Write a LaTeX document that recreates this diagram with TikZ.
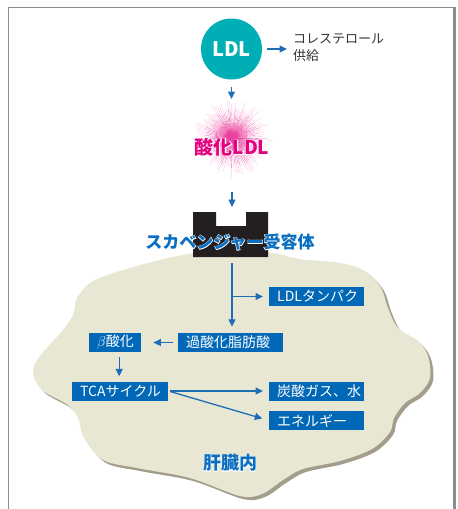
\documentclass[tikz,border=0pt]{standalone}
\usepackage{fontspec}
\setmainfont{Noto Sans CJK JP}
% stroked copy of the same face, used as a white outline under captions
\newfontfamily\jphalo{Noto Sans CJK JP}[BoldFeatures={FakeBold=6}, UprightFeatures={FakeBold=6}]
\usetikzlibrary{arrows.meta}
\definecolor{boxblue}{HTML}{0068B7}
\definecolor{arrowblue}{HTML}{1E6EB5}
\definecolor{ldlteal}{HTML}{00AFB5}
\definecolor{hotpink}{HTML}{E4007F}
\definecolor{liverfill}{HTML}{E7E7D4}
\definecolor{livershadow}{HTML}{A49D8C}
\definecolor{framegray}{HTML}{8C8C8C}
\definecolor{textgray}{HTML}{333333}
\definecolor{titleblue}{HTML}{0A6FC0}
\definecolor{recblack}{HTML}{231F20}

% outlined caption: emboldened white copy under a coloured top layer
\newcommand\haloText[5]{%
  \node[text=white,font=\jphalo\bfseries#3] (#1h) at (#2) {#5};
  \node[text=#4,font=\bfseries#3] (#1) at (#2) {#5};
}

\begin{document}
\begin{tikzpicture}[x=1pt,y=-1pt,
  flow/.style={draw=arrowblue, line width=1.3pt, -{Triangle[length=7.5pt,width=7pt]}},
  infobox/.style={fill=boxblue, text=white, inner xsep=8pt, inner ysep=0pt,
    minimum height=19pt, align=left, anchor=west,
    font=\fontsize{14}{16}\selectfont},
]
\useasboundingbox (0,0) rectangle (458,509);

% frame
\draw[framegray, line width=0.8pt] (8,509) -- (8,7) -- (453,7);
\draw[framegray, line width=3pt] (454.5,7) -- (454.5,509);

% liver outline with drop shadow
\foreach \d/\col in {3/livershadow,0/liverfill}
  \fill[\col, shift={(\d,\d)}] plot[smooth cycle, tension=0.55] coordinates {
    (230,249) (273,253) (300,259) (340,263) (365,271) (381,288) (388,308)
    (398,328) (418,341) (428,356) (430,378) (420,393) (405,403) (394,418)
    (390,432) (372,449) (340,461) (303,469) (283,480) (262,494) (240,496)
    (190,478) (137,468) (103,460) (84,438) (78,418) (68,405) (42,390)
    (33,372) (40,356) (62,331) (73,315) (77,298) (93,281) (130,268) (177,256)};

% LDL particle and cholesterol supply
\node[circle, fill=ldlteal, minimum size=61pt, inner sep=0pt, text=white,
  font=\bfseries\fontsize{20}{20}\selectfont] (ldl) at (231.5,49) {LDL};
\node[anchor=west, inner sep=0pt, align=left, text=textgray,
  font=\fontsize{13}{17}\selectfont] (chol) at (293,48) {コレステロール\\供給};
\draw[flow, shorten <=5pt, shorten >=6pt] (ldl.east) -- (ldl.east -| chol.west);

% oxidised LDL burst
\begin{scope}[shift={(232,138)}]
  \pgfmathsetseed{11}
  \foreach \a in {0,3.5,...,357}{
    \pgfmathsetmacro\L{27+14*rnd}
    \foreach \k/\s in {0/75,1/60,2/38,3/16}{
      \draw[hotpink!\s, line width=0.6pt] (\a:{\k*\L/4}) -- (\a:{(\k+1)*\L/4});
    }
  }
\end{scope}
\haloText{oxl}{232,147}{\fontsize{19}{19}\selectfont}{hotpink}{酸化LDL}
\coordinate (ldlin) at (231.5,99);
\draw[flow, shorten <=7pt] (ldl.south) -- (ldlin);

% scavenger receptor
\fill[recblack] (193,212) -- (216,212) -- (216,226) -- (246,226) -- (246,212)
  -- (268,212) -- (268,257) -- (193,257) -- cycle;
\coordinate (rectop) at (232,212);
\coordinate (recbot) at (232,257);
\coordinate (burstout) at (232,192);
\draw[flow, shorten >=5pt] (burstout) -- (rectop);
\haloText{scav}{230,242}{\fontsize{17}{17}\selectfont}{titleblue}{スカベンジャー受容体}

% metabolic steps
\node[infobox, text width=79pt] (lp)   at (269,296.5) {LDLタンパク};
\node[infobox, text width=89pt] (pf)   at (178,342.5) {過酸化脂肪酸};
\node[infobox, text width=36pt] (beta) at (89,342.5) {$\beta$酸化};
\node[infobox, text width=80pt] (tca)  at (72,391) {TCAサイクル};
\node[infobox, text width=79pt] (co2)  at (269,391) {炭酸ガス、水};
\node[infobox, text width=79pt] (en)   at (269,420.5) {エネルギー};

\coordinate (br) at (232,296.5);
\draw[flow, shorten <=6pt, shorten >=6pt] (recbot) -- (recbot |- pf.north);
\draw[flow, shorten >=6pt] (br) -- (lp.west);
\draw[flow, shorten <=5pt, shorten >=12pt] (pf.west) -- (beta.east);
\draw[flow, shorten <=5pt, shorten >=5pt] ([xshift=4pt]beta.south) -- ([xshift=4pt]beta.south |- tca.north);
\draw[flow, shorten <=2pt, shorten >=6pt] (tca.east) -- (co2.west);
\draw[flow, shorten <=2pt, shorten >=7pt] (tca.east) -- (en.west);

\haloText{liver}{230,463}{\fontsize{18}{18}\selectfont}{titleblue}{肝臓内}
\end{tikzpicture}
\end{document}
